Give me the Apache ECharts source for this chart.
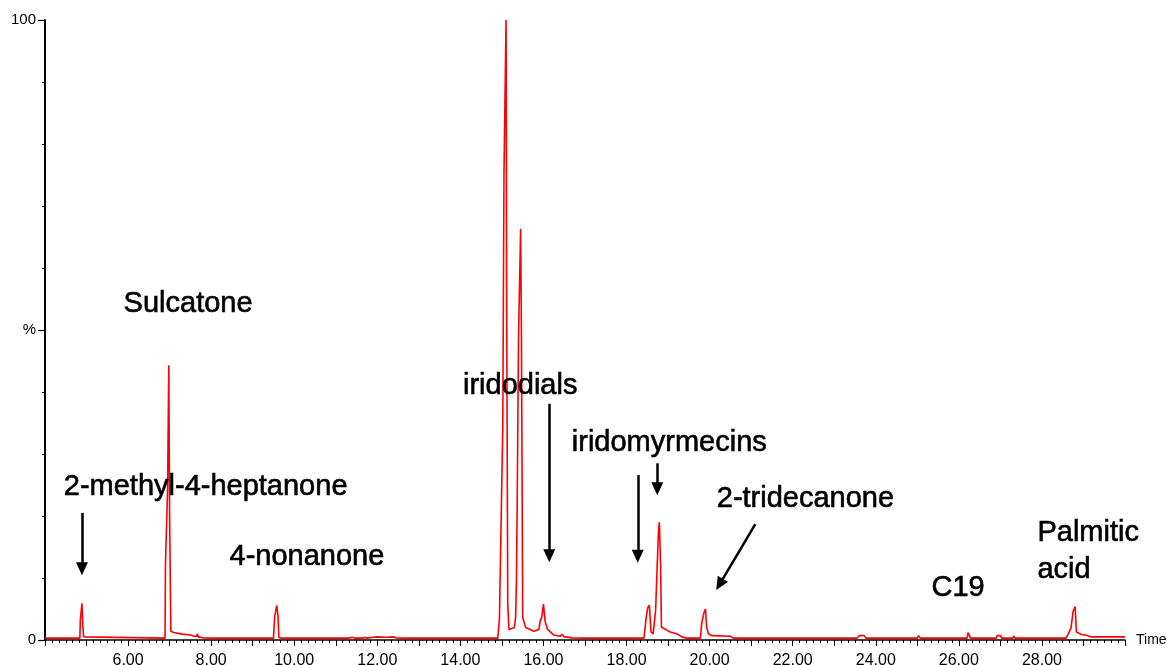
<!DOCTYPE html>
<html>
<head>
<meta charset="utf-8">
<title>Chromatogram</title>
<script src="https://cdn.jsdelivr.net/npm/echarts@6/dist/echarts.min.js"></script>
<style>
  html, body { margin: 0; padding: 0; background: #fff; }
  #chart { width: 1167px; height: 665px; }
</style>
</head>
<body>
<div id="chart"></div>
<script>
// Retention time (min) and relative abundance (%) of the total ion trace
const retentionTimes = [
  4.00, 4.84, 4.85, 4.87, 4.89, 4.91, 4.93, 4.96,
  6.89, 6.90, 6.94, 6.95, 6.98, 7.00, 7.02, 7.03, 7.10, 7.30, 7.50, 7.60, 7.65, 7.67, 7.69, 7.80, 8.00,
  9.50, 9.53, 9.56, 9.58, 9.61, 9.63, 9.70,
  11.30, 11.40, 11.45, 11.65, 11.70, 11.75, 11.90, 12.00, 12.20, 12.40, 12.45, 12.60,
  14.90, 14.94, 14.98, 14.99, 15.02, 15.04, 15.05, 15.08, 15.10, 15.115, 15.13, 15.14, 15.17,
  15.30, 15.33, 15.35, 15.37, 15.40, 15.45, 15.47, 15.49, 15.50, 15.57,
  15.77, 15.89, 15.92, 15.96, 16.00, 16.04, 16.10, 16.25, 16.40, 16.45, 16.50, 16.70, 17.00,
  18.42, 18.47, 18.51, 18.55, 18.59, 18.64, 18.70, 18.74, 18.77, 18.79, 18.82, 18.84,
  18.89, 18.97, 19.05, 19.21, 19.33, 19.45,
  19.78, 19.81, 19.86, 19.90, 19.93, 19.97, 20.05, 20.50, 20.57, 21.00, 21.02, 21.05,
  23.55, 23.60, 23.72, 23.76, 25.00, 25.03, 25.07, 26.20, 26.22, 26.26, 26.28,
  26.90, 26.92, 27.00, 27.03, 27.30, 27.32, 27.35,
  28.58, 28.62, 28.70, 28.75, 28.80, 28.83, 28.86, 28.95, 29.05, 29.20, 30.00
];
const abundances = [
  0.3, 0.3, 3.2, 3.4, 5.9, 2.4, 0.5, 0.3,
  0.3, 12.3, 12.3, 24.0, 44.3, 20.0, 20.0, 1.4, 1.2, 0.95, 0.8, 0.6, 0.6, 1.0, 0.5, 0.35, 0.3,
  0.3, 3.8, 3.9, 5.6, 3.8, 0.4, 0.3,
  0.3, 0.45, 0.3, 0.3, 0.4, 0.3, 0.45, 0.5, 0.45, 0.5, 0.35, 0.3,
  0.3, 3.4, 3.4, 22.7, 34.0, 34.0, 75.6, 75.6, 100, 53.8, 53.8, 5.8, 1.7,
  2.0, 3.7, 9.8, 24.0, 49.0, 66.3, 49.0, 49.0, 3.7, 2.0,
  1.4, 1.7, 3.0, 3.7, 5.8, 3.0, 1.7, 0.8, 0.6, 0.9, 0.5, 0.35, 0.3,
  0.3, 3.5, 5.2, 5.6, 1.3, 1.0, 4.8, 12.4, 17.7, 19.0, 12.0, 2.1,
  1.9, 1.6, 1.3, 1.0, 0.5, 0.3,
  0.3, 2.7, 4.3, 5.0, 2.0, 1.0, 0.7, 0.6, 0.3, 0.3, 0.5, 0.3,
  0.3, 0.7, 0.7, 0.3, 0.3, 0.7, 0.3, 0.3, 1.2, 1.2, 0.3,
  0.3, 0.7, 0.7, 0.3, 0.3, 0.65, 0.3,
  0.3, 0.8, 1.9, 4.6, 5.4, 1.3, 1.1, 0.9, 0.8, 0.5, 0.5
];

// Compound names written on the trace
const compoundNames = [
  'Sulcatone', '2-methyl-4-heptanone', '4-nonanone', 'iridodials',
  'iridomyrmecins', '2-tridecanone', 'C19', 'Palmitic\nacid'
];

// Where each name sits, in [time, %] (left edge, vertical middle)
const namePlacement = [
  [5.88, 54.2], [4.44, 24.7], [8.43, 13.4], [14.05, 41.0],
  [16.67, 31.8], [20.16, 22.8], [25.33, 8.4], [27.88, 14.3]
];

// Pointer arrows, [from, to] in [time, %]
const pointers = [
  [[4.89, 20.5], [4.89, 11.5]],
  [[16.14, 38.1], [16.14, 13.6]],
  [[18.27, 26.6], [18.27, 13.5]],
  [[18.74, 28.5], [18.74, 24.4]],
  [[21.10, 18.7], [20.24, 8.97]]
];

const yTickText = { 0: '0', 50: '%', 100: '100' };

const trace = retentionTimes.map((t, i) => [t, abundances[i]]);
const FONT = 'Liberation Sans, Arial, sans-serif';

const chart = echarts.init(document.getElementById('chart'), null, { renderer: 'canvas' });
chart.setOption({
  animation: false,
  backgroundColor: '#ffffff',
  grid: { left: 45, right: 42, top: 20, bottom: 25, containLabel: false, outerBoundsMode: 'none' },
  xAxis: {
    type: 'value',
    min: 4,
    max: 30,
    interval: 1,
    name: 'Time',
    nameLocation: 'end',
    nameGap: 11,
    nameTextStyle: { color: '#000', fontSize: 14, fontFamily: FONT },
    axisLine: { show: true, onZero: false, lineStyle: { color: '#000', width: 1.5 } },
    axisTick: { show: true, length: 6, lineStyle: { color: '#000', width: 1 } },
    minorTick: { show: true, splitNumber: 6, length: 3, lineStyle: { color: '#000', width: 1 } },
    splitLine: { show: false },
    minorSplitLine: { show: false },
    axisLabel: {
      color: '#000',
      fontSize: 16,
      fontFamily: FONT,
      margin: 13,
      formatter: v => (v % 2 === 0 && v >= 6 && v <= 28) ? v.toFixed(2) : ''
    }
  },
  yAxis: {
    type: 'value',
    min: 0,
    max: 100,
    interval: 50,
    axisLine: { show: true, lineStyle: { color: '#000', width: 2 } },
    axisTick: { show: true, length: 7, lineStyle: { color: '#000', width: 1.2 } },
    minorTick: { show: true, splitNumber: 5, length: 3, lineStyle: { color: '#000', width: 1 } },
    splitLine: { show: false },
    minorSplitLine: { show: false },
    axisLabel: {
      color: '#000',
      fontSize: 15,
      fontFamily: FONT,
      margin: 9,
      formatter: v => yTickText[v] !== undefined ? yTickText[v] : ''
    }
  },
  series: [
    {
      type: 'line',
      data: trace,
      symbol: 'none',
      lineStyle: { color: '#ff0000', width: 1.6 },
      silent: true,
      markLine: {
        silent: true,
        symbol: ['none', 'triangle'],
        symbolSize: [12, 13],
        label: { show: false },
        lineStyle: { color: '#000', width: 2.5, type: 'solid' },
        itemStyle: { color: '#000' },
        data: pointers.map(p => [{ coord: p[0] }, { coord: p[1] }])
      },
      markPoint: {
        silent: true,
        symbol: 'rect',
        symbolSize: 1,
        itemStyle: { color: 'rgba(0,0,0,0)' },
        label: {
          show: true,
          position: 'right',
          distance: 0,
          color: '#000',
          fontSize: 29,
          fontFamily: FONT,
          lineHeight: 37,
          textBorderColor: '#000',
          textBorderWidth: 0.6
        },
        data: compoundNames.map((name, i) => ({
          coord: namePlacement[i],
          label: { formatter: name }
        }))
      }
    }
  ]
});
</script>
</body>
</html>
